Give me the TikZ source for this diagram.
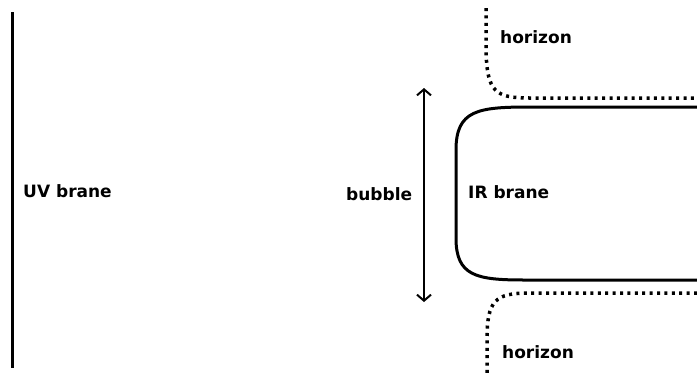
\documentclass[tikz,border=0pt]{standalone}
\usepackage{fontspec}
\setmainfont{DejaVu Sans}
\usetikzlibrary{arrows.meta}
\begin{document}
\begin{tikzpicture}[x=1pt,y=-1pt,
  lbl/.style={anchor=base west,inner sep=0pt,font=\fontsize{17}{20}\selectfont\bfseries},
  brane/.style={line width=3pt},
  horizonline/.style={line width=3.5pt,dash pattern=on 3pt off 4.4pt},
  sizearrow/.style={line width=2pt,{Straight Barb[length=6pt,width=14pt]}-{Straight Barb[length=6pt,width=14pt]}}]
  \useasboundingbox (0,0) rectangle (697,376);
  % UV brane
  \coordinate (uvtop) at (12,12);
  \coordinate (uvbot) at (12,368);
  \draw[brane] (uvtop) -- (uvbot);
  \node[lbl] (uv) at (23,197) {UV brane};
  % size of the bubble
  \coordinate (btop) at (424,88);
  \coordinate (bbot) at (424,302);
  \draw[sizearrow] (btop) -- (bbot);
  \node[lbl] (bubble) at (346,200) {bubble};
  % IR brane
  \draw[brane] (697,107) -- (530,107)
     .. controls (478,107) and (456,110) .. (456,150)
     -- (456,238)
     .. controls (456,276) and (476,280) .. (525,280) -- (697,280);
  \node[lbl] (ir) at (468,198) {IR brane};
  % horizons
  \draw[horizonline] (486,8) -- (486,50)
     .. controls (487,92) and (495,98) .. (530,98) -- (697,98);
  \draw[horizonline] (697,293) -- (530,293)
     .. controls (495,293) and (487,300) .. (487,340) -- (487,380);
  \node[lbl] (htop) at (500,43) {horizon};
  \node[lbl] (hbot) at (502,358) {horizon};
\end{tikzpicture}
\end{document}
